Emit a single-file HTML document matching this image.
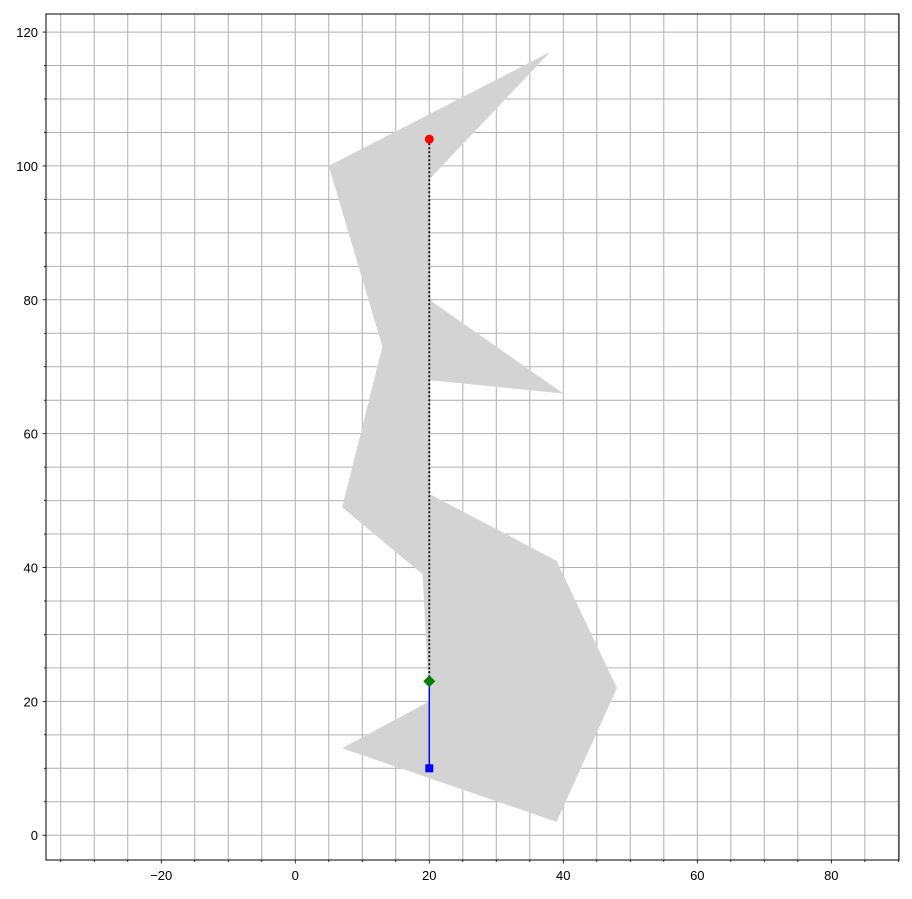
<!DOCTYPE html>
<html><head><meta charset="utf-8"><style>
body{margin:0;background:#fff}
svg text{font-family:"Liberation Sans",sans-serif;font-size:13px;fill:#000}
</style></head><body>
<svg id="chart" width="912" height="894" xmlns="http://www.w3.org/2000/svg"></svg>
<script>
const polyX=[5,13,7,19,20,7,39,48,39,20,20,40,20,20,38];
const polyY=[100,73,49,39,20,13,2,22,41,51,68,66,80,98,117];
const xTicks=[-20,0,20,40,60,80];
const yTicks=[0,20,40,60,80,100,120];
const startPt=[20,10], midPt=[20,23], endPt=[20,104];
const L=46,R=899,T=14,B=860;
const xmin=-37.2,xmax=90.1,ymin=-3.7,ymax=122.7;
const sx=v=>L+(v-xmin)/(xmax-xmin)*(R-L);
const sy=v=>B-(v-ymin)/(ymax-ymin)*(B-T);
const svg=document.getElementById('chart');
const NS='http://www.w3.org/2000/svg';
function mk(tag,attrs,name){const e=document.createElementNS(NS,tag);for(const k in attrs)e.setAttribute(k,attrs[k]);


svg.appendChild(e);return e;}
// grid every 5
for(let v=Math.ceil(xmin/5)*5;v<=xmax;v+=5){mk('line',{x1:sx(v),x2:sx(v),y1:T,y2:B,stroke:'#b0b0b0','stroke-width':1},'x-grid-line');
mk('line',{x1:sx(v),x2:sx(v),y1:B,y2:B+(v%20===0?3.5:2),stroke:'#000','stroke-width':0.8},'x-tick');}
for(let v=Math.ceil(ymin/5)*5;v<=ymax;v+=5){mk('line',{x1:L,x2:R,y1:sy(v),y2:sy(v),stroke:'#b0b0b0','stroke-width':1},'y-grid-line');
mk('line',{x1:L,x2:L-(v%20===0?3.5:2),y1:sy(v),y2:sy(v),stroke:'#000','stroke-width':0.8},'y-tick');}
mk('polygon',{points:polyX.map((x,i)=>sx(x)+','+sy(polyY[i])).join(' '),fill:'#d3d3d3'},'gray-polygon');
mk('line',{x1:sx(midPt[0]),y1:sy(midPt[1]),x2:sx(endPt[0]),y2:sy(endPt[1]),stroke:'#000','stroke-width':1.8,'stroke-dasharray':'2,2'},'dotted-path');
mk('line',{x1:sx(startPt[0]),y1:sy(startPt[1]),x2:sx(midPt[0]),y2:sy(midPt[1]),stroke:'#0000ff','stroke-width':1.5},'blue-path');
mk('rect',{x:sx(startPt[0])-4,y:sy(startPt[1])-4,width:8,height:8,fill:'#0000ff'},'start-square');
mk('polygon',{points:`${sx(midPt[0])},${sy(midPt[1])-6} ${sx(midPt[0])+6},${sy(midPt[1])} ${sx(midPt[0])},${sy(midPt[1])+6} ${sx(midPt[0])-6},${sy(midPt[1])}`,fill:'#008000'},'mid-diamond');
mk('circle',{cx:sx(endPt[0]),cy:sy(endPt[1]),r:4.5,fill:'#ff0000'},'end-circle');
mk('rect',{x:L,y:T,width:R-L,height:B-T,fill:'none',stroke:'#000','stroke-width':1},'plot-frame');
xTicks.forEach(v=>{const t=mk('text',{x:sx(v),y:B+20,'text-anchor':'middle'},'x-tick-label');t.textContent=v<0?'\u2212'+(-v):v;});
yTicks.forEach(v=>{const t=mk('text',{x:L-8,y:sy(v)+5,'text-anchor':'end'},'y-tick-label');t.textContent=v;});
</script>
</body></html>
